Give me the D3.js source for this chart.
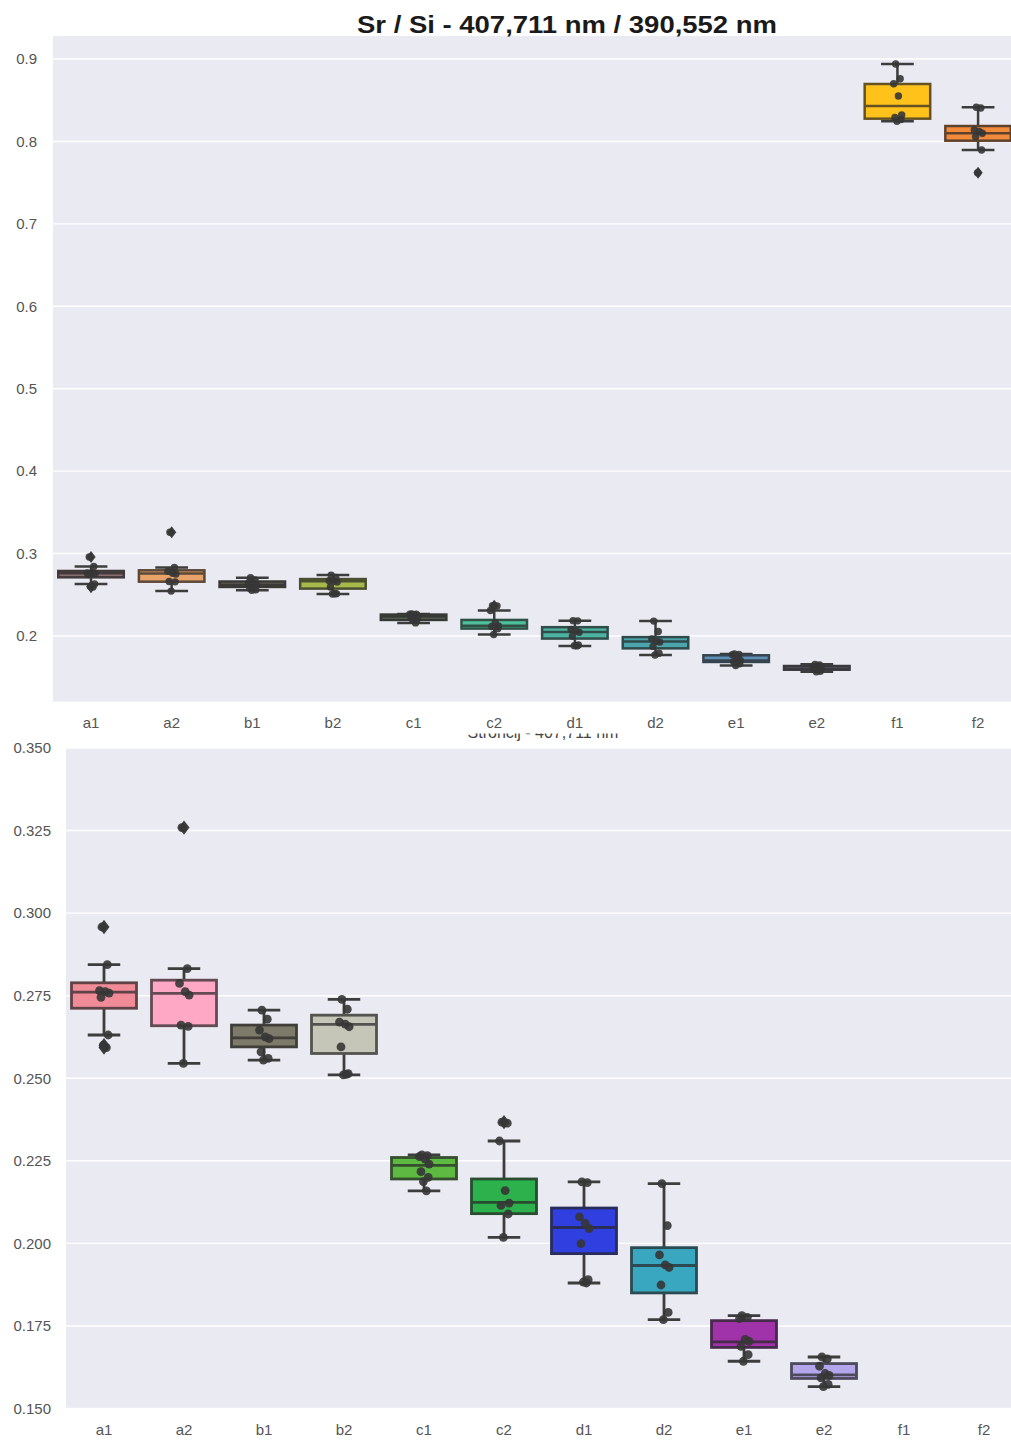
<!DOCTYPE html>
<html>
<head>
<meta charset="utf-8">
<script src="https://cdn.jsdelivr.net/npm/d3@7"></script>
<style>
  html, body { margin: 0; padding: 0; background: #ffffff; }
  svg { display: block; }
</style>
</head>
<body>
<script>
// ---------------- DATA ----------------
const categories = ["a1","a2","b1","b2","c1","c2","d1","d2","e1","e2","f1","f2"];

const whiskerLow  = [0.2631, 0.2545, 0.2555, 0.2510, 0.2159, 0.2018, 0.1880, 0.1769, 0.1643, 0.1566, 0.8245, 0.7896];
const q1Values    = [0.2712, 0.2659, 0.2595, 0.2575, 0.2195, 0.2090, 0.1969, 0.1850, 0.1685, 0.1591, 0.8276, 0.8009];
const medianVals  = [0.2761, 0.2757, 0.2622, 0.2663, 0.2236, 0.2124, 0.2048, 0.1933, 0.1702, 0.1602, 0.8430, 0.8099];
const q3Values    = [0.2789, 0.2797, 0.2661, 0.2691, 0.2260, 0.2195, 0.2107, 0.1987, 0.1766, 0.1636, 0.8697, 0.8187];
const whiskerHigh = [0.2844, 0.2832, 0.2706, 0.2739, 0.2268, 0.2310, 0.2186, 0.2181, 0.1781, 0.1656, 0.8939, 0.8414];

const outliers = [
  [0.2958, 0.2600, 0.2593],
  [0.3259],
  [], [], [],
  [0.2367],
  [], [], [], [], [],
  [0.7621]
];

const points = [
  [0.2958, 0.2844, 0.2765, 0.2762, 0.2758, 0.2745, 0.2631, 0.2600, 0.2593],
  [0.3259, 0.2832, 0.2787, 0.2762, 0.2752, 0.2661, 0.2657, 0.2545],
  [0.2706, 0.2679, 0.2646, 0.2625, 0.2620, 0.2580, 0.2560, 0.2555],
  [0.2739, 0.2709, 0.2670, 0.2664, 0.2656, 0.2595, 0.2514, 0.2510, 0.2512],
  [0.2268, 0.2266, 0.2263, 0.2255, 0.2240, 0.2217, 0.2200, 0.2187, 0.2159],
  [0.2367, 0.2364, 0.2310, 0.2160, 0.2122, 0.2115, 0.2089, 0.2018],
  [0.2186, 0.2184, 0.2080, 0.2061, 0.2045, 0.1999, 0.1890, 0.1883, 0.1880],
  [0.2181, 0.2054, 0.1965, 0.1935, 0.1927, 0.1874, 0.1791, 0.1769],
  [0.1781, 0.1776, 0.1772, 0.1709, 0.1703, 0.1688, 0.1663, 0.1643],
  [0.1656, 0.1650, 0.1628, 0.1606, 0.1600, 0.1593, 0.1573, 0.1566],
  [0.8939, 0.8760, 0.8700, 0.8551, 0.8321, 0.8290, 0.8265, 0.8245],
  [0.8414, 0.8405, 0.8139, 0.8120, 0.8100, 0.8058, 0.7896, 0.7621]
];

// categories drawn in the lower (zoomed) panel
const zoomCategories = ["a1","a2","b1","b2","c1","c2","d1","d2","e1","e2"];

const topColors    = ["#8a6f72","#e8a36a","#6e6a5e","#a9b84a","#5f6b5a","#4fbf9c","#4cb3a2","#4aa5ad","#5f90b8","#6a6a7a","#ffc21a","#f28a3c"];
const bottomColors = ["#f08b97","#ffa8c6","#7e7a6a","#c6c6b8","#5db941","#2db14c","#3040e0","#3aa7c1","#a033a9","#b4a6ea","#cccccc","#cccccc"];

const topTicks    = [0.2, 0.3, 0.4, 0.5, 0.6, 0.7, 0.8, 0.9];
const bottomTicks = [0.150, 0.175, 0.200, 0.225, 0.250, 0.275, 0.300, 0.325, 0.350];

const mainTitle   = "Sr / Si - 407,711 nm / 390,552 nm";
const lowerTitle  = "Stroncij - 407,711 nm";

// ---------------- DRAWING ----------------
const W = 1011, H = 1440;
const svg = d3.select("body").append("svg").attr("width", W).attr("height", H);
svg.append("rect").attr("width", W).attr("height", H).attr("fill", "#ffffff");

const jitterPattern = [-0.35, 0.55, -0.75, 0.2, 0.85, -0.5, 0.7, -0.1, 0.4, -0.65];
const FONT = "'Liberation Sans Narrow', 'Liberation Sans', Arial, sans-serif";

function drawPanel(cfg) {
  const g = svg.append("g");
  const x = d3.scaleBand().domain(categories).range(cfg.xRange).paddingInner(0).paddingOuter(0);
  const y = d3.scaleLinear().domain(cfg.yDomain).range(cfg.yRange);

  g.append("rect")
    .attr("x", cfg.panel[0]).attr("y", cfg.panel[1])
    .attr("width", cfg.panel[2] - cfg.panel[0]).attr("height", cfg.panel[3] - cfg.panel[1])
    .attr("fill", "#eaeaf2");

  g.selectAll(".grid").data(cfg.ticks).enter().append("line")
    .attr("x1", cfg.panel[0]).attr("x2", cfg.panel[2])
    .attr("y1", d => y(d)).attr("y2", d => y(d))
    .attr("stroke", "#ffffff").attr("stroke-width", 1.4);

  const yAxis = d3.axisLeft(y).tickValues(cfg.ticks).tickFormat(cfg.fmt).tickSize(0).tickPadding(cfg.tickPad);
  const ya = g.append("g").attr("transform", `translate(${cfg.panel[0]},0)`).call(yAxis);
  ya.select(".domain").remove();
  ya.selectAll("text").attr("font-family", FONT).attr("font-size", 15).attr("fill", "#555");

  const bw = x.bandwidth() * 0.8 + 1;
  const lw = cfg.lw;

  const idx = categories.map((c, i) => i).filter(i => cfg.cats.includes(categories[i]));

  idx.forEach(i => {
    const cx = x(categories[i]) + x.bandwidth() / 2;
    const fill = cfg.colors[i];
    const edge = d3.interpolateRgb(fill, "#262626")(0.72);
    const gray = "#3d3d3d";
    const bg = g.append("g");
    bg.append("line").attr("x1", cx).attr("x2", cx)
      .attr("y1", y(q3Values[i])).attr("y2", y(whiskerHigh[i]))
      .attr("stroke", gray).attr("stroke-width", lw);
    bg.append("line").attr("x1", cx).attr("x2", cx)
      .attr("y1", y(q1Values[i])).attr("y2", y(whiskerLow[i]))
      .attr("stroke", gray).attr("stroke-width", lw);
    [whiskerLow[i], whiskerHigh[i]].forEach(v => {
      bg.append("line").attr("x1", cx - bw / 4).attr("x2", cx + bw / 4)
        .attr("y1", y(v)).attr("y2", y(v))
        .attr("stroke", gray).attr("stroke-width", lw);
    });
    bg.append("rect")
      .attr("x", cx - bw / 2).attr("width", bw)
      .attr("y", y(q3Values[i])).attr("height", Math.max(0.5, y(q1Values[i]) - y(q3Values[i])))
      .attr("fill", fill).attr("stroke", edge).attr("stroke-width", lw);
    bg.append("line").attr("x1", cx - bw / 2).attr("x2", cx + bw / 2)
      .attr("y1", y(medianVals[i])).attr("y2", y(medianVals[i]))
      .attr("stroke", edge).attr("stroke-width", lw);
    outliers[i].forEach(v => {
      const s = cfg.r * 1.25;
      bg.append("path")
        .attr("d", `M${cx},${y(v) - s * 1.3}L${cx + s},${y(v)}L${cx},${y(v) + s * 1.3}L${cx - s},${y(v)}Z`)
        .attr("fill", gray);
    });
  });

  idx.forEach(i => {
    const cx = x(categories[i]) + x.bandwidth() / 2;
    g.append("g").selectAll("circle").data(points[i]).enter().append("circle")
      .attr("cx", (d, k) => cx + jitterPattern[k % jitterPattern.length] * cfg.jit)
      .attr("cy", d => y(d))
      .attr("r", cfg.r)
      .attr("fill", "#363636").attr("fill-opacity", 0.9);
  });

  return { x, y, g };
}

function drawXLabels(p, baseline) {
  p.g.append("g").selectAll("text").data(categories).enter().append("text")
    .attr("x", d => p.x(d) + p.x.bandwidth() / 2)
    .attr("y", baseline)
    .attr("text-anchor", "middle")
    .attr("font-family", FONT).attr("font-size", 15).attr("fill", "#555")
    .text(d => d);
}

const lowerPanel = drawPanel({
  xRange: [64, 1024], yDomain: [0.150, 0.350], yRange: [1408.5, 748],
  panel: [66, 748, 1011, 1408.5], ticks: bottomTicks, fmt: d3.format(".3f"), tickPad: 15,
  colors: bottomColors, cats: zoomCategories, lw: 2.8, r: 4.4, jit: 6
});
drawXLabels(lowerPanel, 1435);

svg.append("text")
  .attr("x", 543).attr("y", 738)
  .attr("text-anchor", "middle")
  .attr("font-family", FONT).attr("font-size", 16).attr("fill", "#444")
  .text(lowerTitle);

svg.append("rect").attr("x", 0).attr("y", 702).attr("width", W).attr("height", 31.5).attr("fill", "#ffffff");

const upperPanel = drawPanel({
  xRange: [50.7, 1018.4], yDomain: [0.1203, 0.9279], yRange: [701.7, 36],
  panel: [53, 36, 1011, 701.7], ticks: topTicks, fmt: d3.format(".1f"), tickPad: 16,
  colors: topColors, cats: categories, lw: 2.5, r: 3.7, jit: 5
});
drawXLabels(upperPanel, 728);

svg.append("text")
  .attr("x", 567).attr("y", 33)
  .attr("text-anchor", "middle")
  .attr("font-family", "'Liberation Sans', Arial, sans-serif")
  .attr("font-weight", "bold").attr("font-size", 24).attr("fill", "#1a1a1a")
  .attr("textLength", 420).attr("lengthAdjust", "spacingAndGlyphs")
  .text(mainTitle);
</script>
</body>
</html>
